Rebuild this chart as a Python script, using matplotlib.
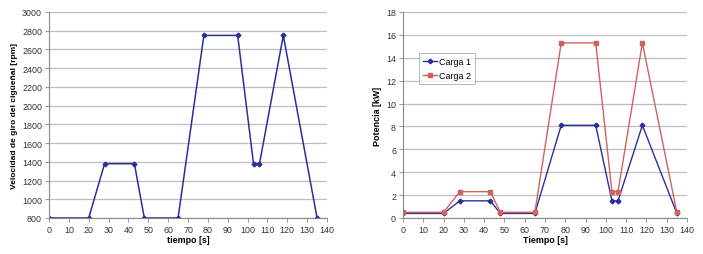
import matplotlib
matplotlib.use("Agg")
import matplotlib.pyplot as plt

tiempo = [0, 20, 28, 43, 48, 65, 78, 95, 103, 106, 118, 135]
velocidad = [800, 800, 1380, 1380, 800, 800, 2750, 2750, 1380, 1380, 2750, 800]
carga1 = [0.4, 0.4, 1.5, 1.5, 0.4, 0.4, 8.1, 8.1, 1.5, 1.5, 8.1, 0.4]
carga2 = [0.5, 0.5, 2.3, 2.3, 0.5, 0.5, 15.3, 15.3, 2.3, 2.3, 15.3, 0.5]

plt.rcParams['font.family'] = ['Liberation Sans', 'DejaVu Sans']
fig = plt.figure(figsize=(7.03, 2.55), dpi=100)
ax1 = fig.add_axes([49/703, 36/255, 278/703, 206/255])
ax2 = fig.add_axes([403/703, 36/255, 284/703, 206/255])

blue = '#2B2F9C'
red = '#D0625F'
grid = '#BDBDBD'

def style(ax):
    for s in ['top', 'right']:
        ax.spines[s].set_visible(False)
    for s in ['left', 'bottom']:
        ax.spines[s].set_color('#888888')
        ax.spines[s].set_linewidth(0.8)
    ax.grid(axis='y', color=grid, linewidth=0.9)
    ax.set_axisbelow(True)
    ax.tick_params(labelsize=6.4, colors='#333333', length=3, width=0.6, pad=2)
    ax.tick_params(axis='both', color='#888888')
    ax.set_xlim(0, 140)
    ax.set_xticks(range(0, 141, 10))

ax1.plot(tiempo, velocidad, color=blue, marker='D', markersize=2.4, linewidth=1.1)
ax1.set_ylim(800, 3000)
ax1.set_yticks(range(800, 3001, 200))
style(ax1)
ax1.set_xlabel('tiempo [s]', fontsize=6.4, fontweight='bold', labelpad=1)
ax1.set_ylabel('Velocidad de giro del cigüeñal [rpm]', fontsize=6.0, fontweight='bold', labelpad=3)

ax2.plot(tiempo, carga1, color=blue, marker='D', markersize=2.4, linewidth=1.0, label='Carga 1')
ax2.plot(tiempo, carga2, color=red, marker='s', markersize=3.2, linewidth=1.0, label='Carga 2')
ax2.set_ylim(0, 18)
ax2.set_yticks(range(0, 19, 2))
style(ax2)
ax2.set_xlabel('Tiempo [s]', fontsize=6.4, fontweight='bold', labelpad=1)
ax2.set_ylabel('Potencia [kW]', fontsize=6.4, fontweight='bold', labelpad=3)
leg = ax2.legend(loc='upper left', bbox_to_anchor=(0.055, 0.80), fontsize=6.4, frameon=True,
                 fancybox=False, edgecolor='#999999', handlelength=1.6, borderpad=0.45,
                 labelspacing=0.55, handletextpad=0.2, borderaxespad=0)
leg.get_frame().set_linewidth(0.6)

fig.savefig('out.png', dpi=100)
